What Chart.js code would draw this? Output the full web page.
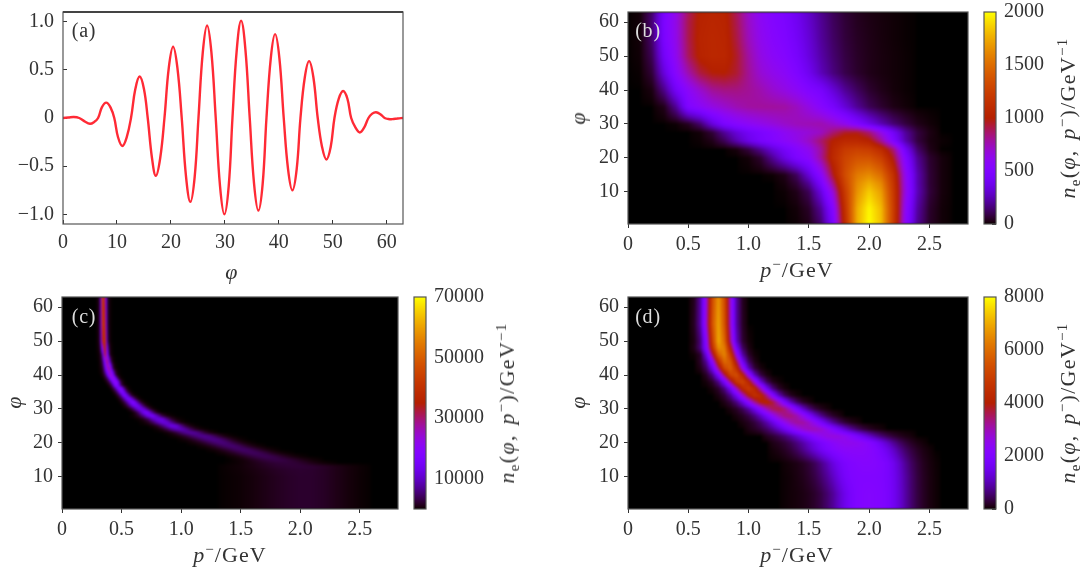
<!DOCTYPE html>
<html>
<head>
<meta charset="utf-8">
<script src="https://cdn.jsdelivr.net/npm/chart.js@4"></script>
<style>
html, body { margin: 0; padding: 0; background: #fff; }
#page { position: relative; width: 1083px; height: 569px; overflow: hidden; }
canvas { position: absolute; }
.txt { position: absolute; font-family: "Liberation Serif", serif; font-size: 22px; letter-spacing: 1.1px; color: #333; white-space: nowrap; transform: translate(-50%, -50%); line-height: 1; }
.rot { transform: translate(-50%, -50%) rotate(-90deg); }
.long { letter-spacing: 1.3px; word-spacing: 3px; }
.tag { font-size: 20px; letter-spacing: 0.8px; }
.txt i { font-style: italic; }
.txt sup, .txt sub { font-size: 15px; line-height: 0; }
</style>
</head>
<body>
<div id="page"></div>
<script>
// panel a : wave
const waveX = [0,1,2,3,4,5,5.8,6.5,7.2,8,8.8,9.5,10.2,11,11.8,12.6,13.4,14.2,15,15.7,16.5,17.2,18,18.8,19.6,20.4,21.2,22,22.8,23.6,24.4,25.1,25.9,26.7,27.5,28.3,29.1,29.9,30.7,31.4,32.2,33,33.8,34.6,35.4,36.2,37,37.7,38.5,39.3,40.1,40.9,41.7,42.5,43.3,44,44.8,45.6,46.4,47.2,48,48.8,49.6,50.3,51.1,51.9,52.7,53.4,54.2,55,55.8,56.6,57.3,58,58.8,59.6,60.3,61,62,63];
const waveY = [0,0.005,0.01,0,-0.035,-0.06,-0.04,0,0.11,0.16,0.11,0,-0.2,-0.29,-0.2,0,0.3,0.43,0.3,0,-0.42,-0.6,-0.42,0,0.52,0.74,0.52,0,-0.61,-0.87,-0.61,0,0.68,0.96,0.68,0,-0.71,-1,-0.71,0,0.71,1.01,0.71,0,-0.68,-0.96,-0.68,0,0.62,0.87,0.62,0,-0.53,-0.75,-0.53,0,0.42,0.59,0.42,0,-0.3,-0.43,-0.3,0,0.2,0.28,0.2,0,-0.1,-0.15,-0.1,0,0.045,0.06,0.04,0,-0.01,-0.012,-0.005,0];
const waveTicksX = [0,10,20,30,40,50,60];
const waveTicksY = [-1,-0.5,0,0.5,1];
const waveLabelsY = ["\u22121.0","\u22120.5","0","0.5","1.0"];

const phiTicks = [10,20,30,40,50,60];
const pTicks = [0,0.5,1,1.5,2,2.5];
const pLabels = ["0","0.5","1.0","1.5","2.0","2.5"];

// panel b : rows of phi, each row starts at bStart with a step of 0.1 GeV
const bPhi = [63,60,55,50,45,40,35,30,27.5,25,22.5,20,15,12.5,10,5,0.5];
const bStart = [0,0,0,0,0,0,0,0,0.6,0,0.9,1,1.2,1.3,1.3,1.4,1.4];
const bValues = [
  [0,10,140,460,640,880,1020,1050,1030,890,710,590,520,470,390,290,190,115,65,38,22,14,7,3],
  [0,10,150,480,650,900,1030,1060,1040,900,720,600,530,480,400,300,200,120,70,40,25,15,8,3],
  [0,10,140,470,640,900,1040,1070,1050,920,740,620,550,500,420,320,210,130,75,45,28,16,8,3],
  [0,8,110,420,620,880,1030,1070,1060,950,780,650,580,530,450,340,230,145,85,50,30,18,10,4],
  [0,3,70,330,560,760,920,990,1000,940,800,690,630,580,500,390,260,165,95,55,30,18,10,4],
  [0,0,20,180,420,580,700,800,830,830,800,760,700,650,590,510,450,320,200,120,60,30,12,4],
  [0,0,0,30,200,500,580,650,700,750,780,790,790,780,730,650,550,450,320,200,110,60,25,10],
  [0,0,0,0,5,40,140,330,470,540,590,630,670,710,740,750,760,700,620,500,370,250,150,80,30,10],
  [10,70,200,320,410,470,530,600,650,680,720,850,950,960,850,640,420,210,80,25],
  [0,0,0,0,0,0,5,30,110,240,360,450,510,570,630,720,860,1010,1080,1080,1020,800,500,240,80,20,5],
  [15,80,190,320,430,530,620,790,1060,1220,1260,1230,1100,850,420,140,30],
  [10,60,200,350,480,560,790,1080,1280,1370,1370,1250,960,520,200,60,15],
  [5,30,120,320,560,950,1330,1560,1630,1500,1150,620,250,70,15],
  [15,70,200,450,820,1280,1620,1760,1620,1190,640,250,70,15],
  [5,30,110,340,680,1220,1660,1860,1700,1220,650,260,75,15],
  [10,50,200,520,1150,1750,1980,1800,1250,600,220,55,10],
  [5,30,140,460,1100,1760,2000,1820,1240,580,200,50,10]
];
const bStep = [0.1,0.1,0.1,0.1,0.1,0.1,0.1,0.1,0.1,0.1,0.1,0.1,0.1,0.1,0.1,0.1,0.1];
const bBarLevels = [0,100,200,300,400,500,600,700,800,900,1000,1100,1200,1300,1400,1500,1600,1700,1800,1900,2000];
const bBarTicks = [0,500,1000,1500,2000];

// panel c : narrow ridge, each row has its own start and step
const cPhi = [63,55,50,46,44,42,40,39,38,37,36,35,34,33,32,31,30,29,28,27,26,25,24,23,22,21,20,19,18,17,16,15,14,13,12,10,5,0.5];
const cStart = [0.3,0.3,0.3,0.3,0.32,0.32,0.34,0.36,0.38,0.4,0.42,0.44,0.46,0.48,0.5,0.52,0.56,0.6,0.6,0.64,0.68,0.76,0.8,0.88,0.92,1,1.08,1.16,1.24,1.32,1.4,1.44,1.4,1.4,1.4,1.4,1.4,1.4];
const cStep = [0.02,0.02,0.02,0.02,0.02,0.02,0.02,0.02,0.02,0.02,0.02,0.02,0.02,0.02,0.02,0.02,0.02,0.02,0.04,0.04,0.04,0.04,0.04,0.04,0.04,0.04,0.04,0.04,0.04,0.04,0.04,0.04,0.04,0.1,0.1,0.1,0.1,0.1];
const cValues = [
  [200,3500,46000,30000,2500,200],
  [200,3000,42000,38000,3000,200],
  [200,2500,34000,44000,4500,300],
  [50,500,8000,36000,18000,1500,80],
  [300,4000,18000,32000,10000,1000,60],
  [150,1500,10000,25000,28000,7000,600,40],
  [400,3000,11000,24000,24000,8000,1000,100],
  [800,4000,13000,23000,21000,8000,1200,100],
  [1000,4500,13000,21000,20000,8000,1500,150],
  [1000,4500,15000,20000,11000,3000,400,50],
  [1000,4500,11500,18500,17000,7000,1500,200],
  [1000,4000,11000,18000,15000,6000,1500,200],
  [800,3500,9500,17000,15000,8000,2500,500,60],
  [700,2800,7500,13500,17000,13000,7000,2400,500,60],
  [600,2200,6000,11000,16000,18000,12000,6000,2000,400,60],
  [500,1800,5000,9500,13500,15500,13500,9000,4500,1500,300,50],
  [500,1800,4800,9000,12500,13500,12000,8500,4500,1700,400,60],
  [500,1800,4800,9000,13000,16000,15000,10500,6000,2500,700,100],
  [200,1500,6000,13000,15500,9000,2500,400,50],
  [100,800,3500,9000,12500,12500,6500,1800,300,40],
  [150,900,3500,8000,11500,11500,7000,2500,500,60],
  [300,1500,5000,9500,13000,12000,6500,2200,500,60],
  [150,800,3000,6500,9000,9500,7500,4000,1400,350,60],
  [150,750,2300,4800,7000,7800,7200,5000,2300,750,160],
  [80,300,950,2200,4000,5700,6800,7000,6000,4000,2000,700,200,40],
  [120,400,1050,2200,3800,5200,6100,6400,5600,4000,2200,950,320,80],
  [160,480,1100,2200,3600,4800,5600,5600,4600,3100,1750,800,280,80],
  [160,440,1000,2000,3200,4300,5000,5100,4400,3100,1800,900,360,120],
  [120,360,880,1700,2700,3800,4500,4700,4400,3400,2300,1300,600,240,80],
  [160,400,880,1600,2500,3400,4000,4300,4100,3400,2500,1500,800,360,140,50],
  [160,360,720,1350,2100,2800,3400,3700,3800,3400,2800,2000,1300,720,360,160,60],
  [100,220,440,800,1300,1850,2400,2800,3100,3250,3100,2800,2300,1750,1200,760,440,220,100],
  [60,120,220,380,600,880,1200,1500,1850,2100,2350,2500,2550,2500,2350,2050,1650,1200,800,480,260,130,50],
  [150,350,800,1400,2000,2300,2400,2200,1700,1000,500,180],
  [130,300,650,1100,1600,1950,2100,2000,1600,1000,500,180],
  [100,220,500,900,1350,1750,2000,1950,1600,1000,500,170],
  [100,220,500,900,1350,1750,2000,1950,1600,1000,500,170],
  [100,220,500,900,1350,1750,2000,1950,1600,1000,500,170]
];
const cBarLevels = [0,3500,7000,10500,14000,17500,21000,24500,28000,31500,35000,38500,42000,45500,49000,52500,56000,59500,63000,66500,70000];
const cBarTicks = [10000,30000,50000,70000];

// panel d : step of 0.05 GeV
const dPhi = [63,55,50,48,46,44,42,40,38,36,34,32,30,28,26,24,22,20,18,14,10,5,0.5];
const dStart = [0.55,0.55,0.55,0.55,0.55,0.6,0.6,0.65,0.65,0.7,0.75,0.8,0.85,0.9,0.95,1,1.15,1.2,1.2,1.3,1.3,1.3,1.3];
const dValues = [
  [150,850,2700,5300,6700,5300,2700,850,150],
  [180,880,2800,5500,6900,5500,2800,880,180],
  [100,600,2200,5000,7000,5900,3200,1100,250,40],
  [130,635,2090,4560,6580,6320,4000,1700,475,90],
  [30,200,1400,3460,5700,6450,4900,2530,880,210,30],
  [195,805,2290,4460,6000,5570,3570,1573,480,100],
  [107,475,1490,3310,5190,5760,4530,2500,990,275,60],
  [182,666,1785,3520,5100,5420,4240,2430,1025,318,80],
  [50,210,700,1750,3320,4760,5170,4250,2660,1255,450,120,30],
  [54,215,663,1590,2970,4320,4900,4320,2970,1590,663,215,54],
  [87,282,745,1600,2790,3965,4580,4300,3290,2050,1040,425,143,40],
  [104,285,665,1323,2243,3245,3990,4185,3735,2850,1850,1025,484,195,70],
  [76,193,432,850,1475,2240,3010,3550,3690,3375,2715,1925,1200,660,317,136,50],
  [72,170,350,666,1130,1730,2390,2975,3335,3370,3060,2515,1870,1240,748,405,197,85],
  [70,150,300,545,910,1380,1940,2490,2940,3180,3150,2865,2390,1830,1285,825,486,262,130,60],
  [90,170,297,490,770,1125,1550,2000,2430,2770,2965,2985,2820,2505,2090,1640,1205,835,540,330,190,100,50],
  [156,255,400,595,850,1155,1500,1850,2185,2455,2635,2700,2635,2455,2185,1850,1500,1155,850,595,400,255,156,90,50],
  [100,170,280,430,650,900,1200,1500,1800,2050,2250,2400,2480,2500,2450,2350,2150,1850,1500,1150,800,520,320,180,90,40],
  [50,100,180,300,480,720,1000,1300,1600,1850,2050,2200,2280,2300,2300,2280,2200,2050,1800,1500,1150,800,520,320,180,90,40],
  [30,60,100,170,280,450,700,1000,1350,1650,1880,2030,2100,2150,2150,2120,2020,1850,1550,1180,800,500,290,150,70,25],
  [20,40,80,130,220,350,550,800,1100,1450,1750,1950,2030,2050,2050,2040,1980,1850,1600,1250,880,560,320,170,80,30],
  [20,40,60,90,140,220,350,550,800,1150,1500,1800,2000,2080,2100,2080,2020,1880,1620,1280,900,570,330,180,80,30],
  [20,40,60,90,140,220,350,550,800,1150,1500,1800,2000,2080,2100,2080,2020,1880,1620,1280,900,570,330,180,80,30]
];
const dStep = [0.05,0.05,0.05,0.05,0.05,0.05,0.05,0.05,0.05,0.05,0.05,0.05,0.05,0.05,0.05,0.05,0.05,0.05,0.05,0.05,0.05,0.05,0.05];
const dBarLevels = [0,400,800,1200,1600,2000,2400,2800,3200,3600,4000,4400,4800,5200,5600,6000,6400,6800,7200,7600,8000];
const dBarTicks = [0,2000,4000,6000,8000];

const font = "'Liberation Serif', serif";
const inkColor = "#333";
const frameColor = "#555";

// gnuplot palette
function palette(x) {
  x = Math.max(0, Math.min(1, x));
  return [
    255 * Math.sqrt(x),
    255 * x * x * x,
    255 * Math.max(0, Math.sin(2 * Math.PI * x)),
  ];
}

// turns the rows into {x, y, v} points for the dataset, closed by a zero on each side
function rowsToPoints(phi, start, step, values) {
  let pts = [];
  for (let i = 0; i < phi.length; i++) {
    pts.push({ x: start[i] - step[i], y: phi[i], v: 0 });
    for (let j = 0; j < values[i].length; j++) {
      pts.push({ x: start[i] + j * step[i], y: phi[i], v: values[i][j] });
    }
    pts.push({ x: start[i] + values[i].length * step[i], y: phi[i], v: 0 });
  }
  return pts;
}
function levelsToPoints(levels) {
  let pts = [];
  levels.forEach((l) => {
    pts.push({ x: 0, y: l, v: l });
    pts.push({ x: 1, y: l, v: l });
  });
  return pts;
}

// paints the heat map from the dataset points, through the chart scales
const heatPlugin = {
  id: "heat",
  beforeDatasetsDraw(chart) {
    const ds = chart.data.datasets[0];
    if (!ds.vmax) return;
    const area = chart.chartArea;
    const w = Math.round(area.right - area.left);
    const h = Math.round(area.bottom - area.top);
    const xs = chart.scales.x;
    const ys = chart.scales.y;
    let groups = new Map();
    ds.data.forEach((pt) => {
      if (!groups.has(pt.y)) groups.set(pt.y, []);
      groups.get(pt.y).push(pt);
    });
    const rowY = [...groups.keys()].sort((a, b) => a - b);
    const rowLine = rowY.map((y) => {
      const pts = groups.get(y);
      const line = new Float32Array(w);
      for (let px = 0; px < w; px++) {
        const p = xs.getValueForPixel(area.left + px + 0.5);
        for (let k = 0; k < pts.length - 1; k++) {
          if (p >= pts[k].x && p <= pts[k + 1].x) {
            const t = (p - pts[k].x) / (pts[k + 1].x - pts[k].x);
            line[px] = pts[k].v + t * (pts[k + 1].v - pts[k].v);
            break;
          }
        }
      }
      return line;
    });
    const off = document.createElement("canvas");
    off.width = w;
    off.height = h;
    const octx = off.getContext("2d");
    const img = octx.createImageData(w, h);
    for (let py = 0; py < h; py++) {
      const y = ys.getValueForPixel(area.top + py + 0.5);
      let j = 0;
      while (j < rowY.length - 2 && y > rowY[j + 1]) j++;
      const t = Math.max(0, Math.min(1, (y - rowY[j]) / (rowY[j + 1] - rowY[j])));
      for (let px = 0; px < w; px++) {
        const v = rowLine[j][px] * (1 - t) + rowLine[j + 1][px] * t;
        const c = palette(v / ds.vmax);
        const o = (py * w + px) * 4;
        img.data[o] = c[0];
        img.data[o + 1] = c[1];
        img.data[o + 2] = c[2];
        img.data[o + 3] = 255;
      }
    }
    octx.putImageData(img, 0, 0);
    const ctx = chart.ctx;
    ctx.save();
    ctx.beginPath();
    ctx.rect(area.left, area.top, w, h);
    ctx.clip();
    ctx.fillStyle = "#000";
    ctx.fillRect(area.left, area.top, w, h);
    if (ds.blur) ctx.filter = "blur(" + ds.blur + "px)";
    ctx.drawImage(off, area.left, area.top, w, h);
    ctx.restore();
  },
  afterDraw(chart) {
    const a = chart.chartArea;
    const ctx = chart.ctx;
    ctx.save();
    ctx.strokeStyle = chart.options.plugins.heat.frame;
    ctx.lineWidth = 1.2;
    ctx.strokeRect(a.left, a.top, a.right - a.left, a.bottom - a.top);
    if (chart.options.plugins.heat.thickTop) {
      ctx.lineWidth = 2;
      ctx.strokeStyle = "#444";
      ctx.beginPath();
      ctx.moveTo(a.left, a.top);
      ctx.lineTo(a.right, a.top);
      ctx.stroke();
    }
    ctx.restore();
  },
};
Chart.register(heatPlugin);

const page = document.getElementById("page");

function addCanvas(left, top, width, height) {
  const c = document.createElement("canvas");
  c.style.left = left + "px";
  c.style.top = top + "px";
  c.style.width = width + "px";
  c.style.height = height + "px";
  c.width = width;
  c.height = height;
  page.appendChild(c);
  return c;
}

function axisOptions(extra, size, tickList, labels, tickLength, pad) {
  return Object.assign({
    type: "linear",
    grid: { drawOnChartArea: false, drawTicks: true, tickLength: tickLength, tickColor: inkColor, lineWidth: 1 },
    border: { display: false },
    ticks: {
      autoSkip: false,
      maxRotation: 0,
      padding: pad,
      color: inkColor,
      font: { family: font, size: 20 },
      callback: function (v, i) { return labels[i]; },
    },
    afterBuildTicks: function (s) { s.ticks = tickList.map((t) => ({ value: t })); },
    afterFit: function (s) {
      if (s.isHorizontal()) s.height = size; else s.width = size;
      s.paddingLeft = 0; s.paddingRight = 0; s.paddingTop = 0; s.paddingBottom = 0;
    },
  }, extra);
}

const LEFT = 56, TOP = 8, RIGHT = 8, BOTTOM = 36, BAR_PAD = 14;

function panelChart(l, t, w, h, dataset, xAxis, yAxis, thickTop) {
  const c = addCanvas(l - LEFT, t - TOP, w + LEFT + RIGHT, h + TOP + BOTTOM);
  return new Chart(c, {
    type: "scatter",
    data: { datasets: [dataset] },
    options: {
      responsive: false,
      animation: false,
      events: [],
      layout: { padding: { left: 0, top: TOP, right: RIGHT, bottom: 0 } },
      plugins: { legend: { display: false }, tooltip: { enabled: false }, heat: { frame: frameColor, thickTop: thickTop } },
      scales: { x: xAxis, y: yAxis },
    },
  });
}

function heatPanel(l, t, w, h, points, vmax, blur) {
  panelChart(l, t, w, h,
    { data: points, vmax: vmax, blur: blur, pointRadius: 0, showLine: false },
    axisOptions({ min: 0, max: 2.82 }, BOTTOM, pTicks, pLabels, 4, 5),
    axisOptions({ min: 0.5, max: 63 }, LEFT, phiTicks, phiTicks, 4, 5),
    false);
}

function colorBar(l, t, w, h, levels, tickList) {
  const c = addCanvas(l, t - BAR_PAD, w + 70, h + 2 * BAR_PAD);
  new Chart(c, {
    type: "scatter",
    data: { datasets: [{ data: levelsToPoints(levels), vmax: levels[levels.length - 1], pointRadius: 0, showLine: false }] },
    options: {
      responsive: false,
      animation: false,
      events: [],
      layout: { padding: { left: 1, top: BAR_PAD, right: 4, bottom: BAR_PAD } },
      plugins: { legend: { display: false }, tooltip: { enabled: false }, heat: { frame: frameColor } },
      scales: {
        x: { type: "linear", min: 0, max: 1, display: false },
        y: axisOptions({ position: "right", min: levels[0], max: levels[levels.length - 1] }, 65, tickList, tickList, -4, 12),
      },
    },
  });
}

function addText(html, x, y, cls, color) {
  const d = document.createElement("div");
  d.className = "txt " + (cls || "");
  d.innerHTML = html;
  d.style.left = x + "px";
  d.style.top = y + "px";
  if (color) d.style.color = color;
  page.appendChild(d);
}

// (a)
panelChart(63, 12, 340, 212,
  {
    data: waveX.map((x, i) => ({ x: x, y: waveY[i] })),
    showLine: true,
    pointRadius: 0,
    borderColor: "#ff2a35",
    borderWidth: 2.4,
    tension: 0.4,
  },
  axisOptions({ min: 0, max: 63 }, BOTTOM, waveTicksX, waveTicksX, -4, 11),
  axisOptions({ min: -1.1, max: 1.1 }, LEFT, waveTicksY, waveLabelsY, -4, 13),
  true);

// (b) (c) (d)
heatPanel(628, 12, 340, 212, rowsToPoints(bPhi, bStart, bStep, bValues), 2000, 1);
colorBar(983, 12, 12, 212, bBarLevels, bBarTicks);
heatPanel(62, 297, 336, 212, rowsToPoints(cPhi, cStart, cStep, cValues), 70000, 1);
colorBar(413, 297, 12, 212, cBarLevels, cBarTicks);
heatPanel(628, 297, 340, 212, rowsToPoints(dPhi, dStart, dStep, dValues), 8000, 1);
colorBar(983, 297, 12, 212, dBarLevels, dBarTicks);

// texts
const pGev = "<i>p</i><sup>\u2212</sup>/GeV";
const nLabel = "<i>n</i><sub>e</sub>(<i>\u03c6</i>, <i>p</i><sup>\u2212</sup>)/GeV<sup>\u22121</sup>";
addText("(a)", 84, 30, "tag");
addText("(b)", 648, 30, "tag", "#ddd");
addText("(c)", 84, 316, "tag", "#ddd");
addText("(d)", 648, 316, "tag", "#ddd");
addText("<i>\u03c6</i>", 232, 272);
addText(pGev, 797, 270);
addText(pGev, 230, 555);
addText(pGev, 797, 555);
addText("<i>\u03c6</i>", 578, 118, "rot");
addText("<i>\u03c6</i>", 14, 402, "rot");
addText("<i>\u03c6</i>", 578, 402, "rot");
addText(nLabel, 1068, 118, "rot long");
addText(nLabel, 507, 403, "rot long");
addText(nLabel, 1068, 403, "rot long");
</script>
</body>
</html>
